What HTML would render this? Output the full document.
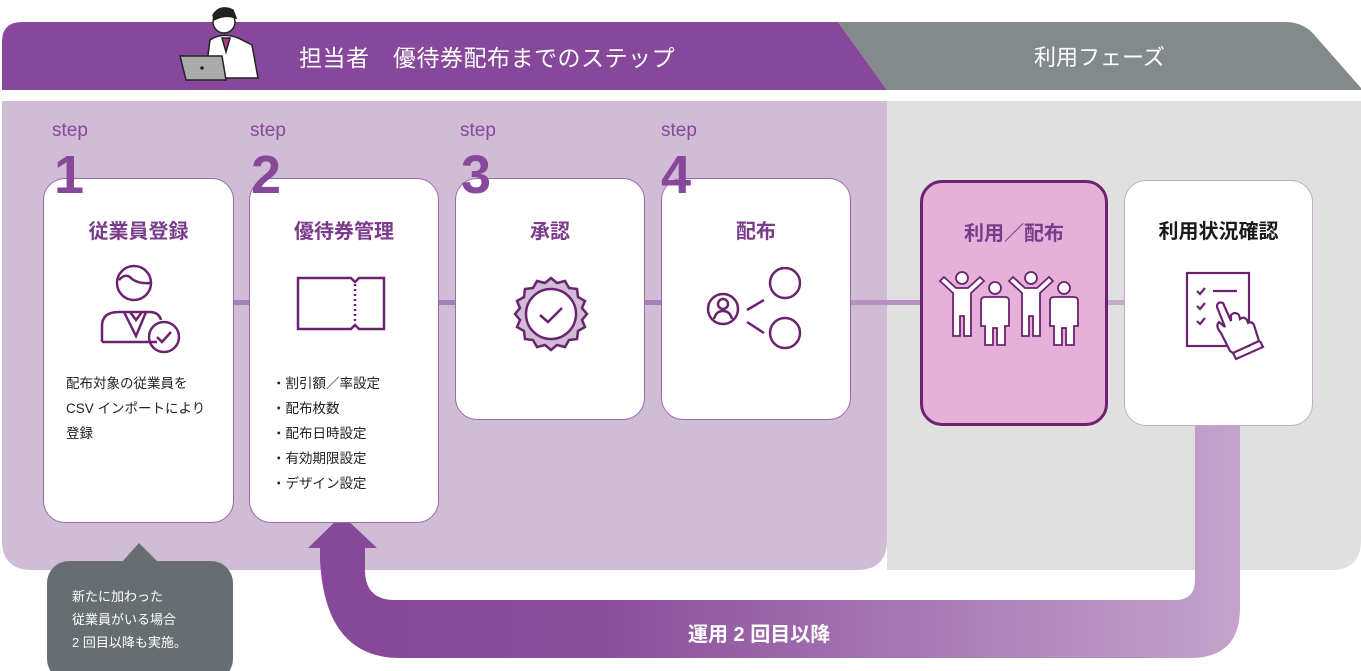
<!DOCTYPE html>
<html><head><meta charset="utf-8"><style>
body{margin:0;width:1361px;height:671px;overflow:hidden;background:#fff;font-family:"Liberation Sans","Noto Sans CJK JP",sans-serif;position:relative}
.a{position:absolute}
.card{position:absolute;background:#fff;border:1.5px solid #9a6aac;border-radius:22px;box-sizing:border-box}
.ttl{position:absolute;left:0;right:0;top:36px;text-align:center;font-weight:bold;font-size:20px;color:#7b3b8c}
.step{position:absolute;font-size:19px;color:#87479a}
.num{position:absolute;font-size:54px;font-weight:bold;color:#87479a;font-family:"Liberation Sans",sans-serif;line-height:1}
.txt{position:absolute;font-size:13.5px;color:#222;line-height:25px}
</style></head><body>
<svg class="a" style="left:0;top:0" width="1361" height="671">
<defs><linearGradient id="g" x1="0" x2="1"><stop offset="0" stop-color="#87479a"/><stop offset="0.3" stop-color="#8a4c9b"/><stop offset="1" stop-color="#c4a3cc"/></linearGradient></defs>
<path d="M2 42 Q2 22 22 22 L838 22 L887 90 L2 90Z" fill="#87479a"/>
<path d="M838 22 L1285 22 Q1305 22 1317 38 L1361 88 L1361 90 L887 90Z" fill="#838a8c"/>
<path d="M2 101 L887 101 L887 540 Q887 570 857 570 L32 570 Q2 570 2 540Z" fill="#d1bcd5"/>
<path d="M887 101 L1361 101 L1361 540 Q1361 570 1331 570 L887 570Z" fill="#e0e0e0"/>
<rect x="230" y="300" width="700" height="5" fill="#a57fb8"/>
<rect x="850" y="300" width="80" height="5" fill="#b592c0"/>
<rect x="1105" y="300" width="30" height="5" fill="#c5a8cc"/>
<path d="M1195 425 L1240 425 L1240 608 Q1240 658 1190 658 L400 658 Q325 658 320 560 L320 548 L308 548 L342 515 L377 548 L365 548 L365 570 Q365 600 395 600 L1175 600 Q1195 600 1195 580Z" fill="url(#g)"/>
<path d="M122 562 L139 543 L158 562Z" fill="#676e72"/>
<rect x="47" y="561" width="186" height="120" rx="22" fill="#676e72"/>
<g stroke="#222" stroke-width="1.5" fill="#fff">
<path d="M205 78 L210 40 Q222 32 238 38 L252 45 L258 78Z"/>
<circle cx="224" cy="22" r="11"/>
<path d="M213 15 Q220 4 233 10 L236 18 Q225 14 214 20Z" fill="#222"/>
<path d="M222 38 L226 52 L230 38Z" fill="#b03a86"/>
<path d="M180 56 L222 56 L226 80 L186 80Z" fill="#aaa"/>
</g>
<circle cx="202" cy="68" r="1.8" fill="#222"/>
</svg>
<div class="a" style="left:299px;top:39px;font-size:23px;color:#fff;letter-spacing:0.5px">担当者　優待券配布までのステップ</div>
<div class="a" style="left:1034px;top:40px;font-size:22px;color:#fff">利用フェーズ</div>

<div class="step" style="left:52px;top:120px">step</div>
<div class="step" style="left:250px;top:120px">step</div>
<div class="step" style="left:460px;top:120px">step</div>
<div class="step" style="left:661px;top:120px">step</div>

<div class="card" style="left:43px;top:178px;width:191px;height:345px">
<div class="ttl">従業員登録</div>
<svg class="a" style="left:55px;top:85px" width="90" height="90" fill="none" stroke="#6b2370" stroke-width="2.5"><circle cx="35" cy="19" r="17"/><path d="M20 16 Q27 8 33 15 Q40 20 51 19"/><path d="M3 78 L3 62 Q3 48 20 48 L50 48 Q60 48 62 56"/><path d="M25 48 L37 72 L47 48 M31 48 L37 56 L43 48"/><path d="M3 78 L58 78"/><circle cx="65" cy="73" r="15"/><path d="M58 73 L63 78 L72 68"/></svg>
<div class="txt" style="left:22px;top:192px">配布対象の従業員を<br>CSV インポートにより<br>登録</div>
</div>
<div class="card" style="left:249px;top:178px;width:190px;height:345px">
<div class="ttl">優待券管理</div>
<svg class="a" style="left:46px;top:97px" width="90" height="56" fill="none" stroke="#6b2370" stroke-width="2.5"><path d="M2 2 L55 2 L59 6 L63 2 L88 2 L88 53 L63 53 L59 49 L55 53 L2 53Z"/><path d="M59 8 L59 47" stroke-dasharray="2 3"/></svg>
<div class="txt" style="left:22px;top:192px">・割引額／率設定<br>・配布枚数<br>・配布日時設定<br>・有効期限設定<br>・デザイン設定</div>
</div>
<div class="card" style="left:455px;top:178px;width:190px;height:242px">
<div class="ttl">承認</div>
<svg class="a" style="left:56px;top:96px" width="78" height="78"><path d="M39 3 L45 8 L53 6 L57 13 L65 14 L66 22 L73 26 L70 33 L75 39 L70 45 L73 52 L66 56 L65 64 L57 65 L53 72 L45 70 L39 75 L33 70 L25 72 L21 65 L13 64 L12 56 L5 52 L8 45 L3 39 L8 33 L5 26 L12 22 L13 14 L21 13 L25 6 L33 8Z" fill="#d1bcd5" stroke="#6b2370" stroke-width="2.5"/><circle cx="39" cy="39" r="25" fill="#fff" stroke="#6b2370" stroke-width="2.5"/><path d="M28 40 L36 47 L50 33" fill="none" stroke="#6b2370" stroke-width="2.5"/></svg>
</div>
<div class="card" style="left:661px;top:178px;width:190px;height:242px">
<div class="ttl">配布</div>
<svg class="a" style="left:44px;top:88px" width="100" height="84" fill="none" stroke="#6b2370" stroke-width="2.5"><circle cx="17" cy="42" r="15"/><circle cx="17" cy="37" r="5"/><path d="M8 52 Q10 44 17 44 Q24 44 26 52"/><circle cx="79" cy="16" r="15"/><circle cx="79" cy="66" r="15"/><path d="M41 43 L58 33 M41 55 L58 66"/></svg>
</div>
<div class="card" style="left:920px;top:180px;width:188px;height:246px;background:#e6b0d8;border:3px solid #6b2370">
<div class="ttl" style="top:34px">利用／配布</div>
<svg class="a" style="left:14px;top:88px" width="160" height="84" fill="#fff" stroke="#6b2370" stroke-width="1.8"><g id="p1"><circle cx="25" cy="7" r="6"/><path d="M3 10 L7 6 L19 17 L31 17 L43 6 L47 10 L34 22 L34 65 L27 65 L27 45 L23 45 L23 65 L16 65 L16 22Z"/></g><g id="p2"><circle cx="58" cy="17" r="6"/><path d="M48 26 L68 26 Q72 26 72 30 L72 55 L68 55 L68 74 L60 74 L60 57 L56 57 L56 74 L48 74 L48 55 L44 55 L44 30 Q44 26 48 26Z"/></g><use href="#p1" x="69"/><use href="#p2" x="69"/></svg>
</div>
<div class="card" style="left:1124px;top:180px;width:189px;height:246px;border-color:#c5a8cc">
<div class="ttl" style="top:34px;color:#1a1a1a">利用状況確認</div>
<svg class="a" style="left:60px;top:90px" width="80" height="90" fill="none" stroke="#6b2370" stroke-width="2.2"><rect x="2" y="2" width="62" height="73"/><path d="M12 20 L15 23 L20 17 M28 20 L52 20 M12 35 L15 38 L20 32 M12 50 L15 53 L20 47"/><path d="M45 80 L36 62 Q30 55 34 51 L40 56 L32 36 Q32 30 38 32 L46 50 L46 44 Q50 40 54 44 L55 48 Q59 45 62 49 L63 52 Q67 50 69 54 L74 70 L48 82Z" fill="#fff"/><path d="M48 82 L51 88 L78 76 L75 70"/></svg>
</div>

<div class="a" style="left:72px;top:585px;font-size:13px;color:#fff;line-height:23px">新たに加わった<br>従業員がいる場合<br>2 回目以降も実施。</div>
<div class="a" style="left:688px;top:618px;font-size:20px;font-weight:bold;color:#fff">運用 2 回目以降</div>

<div class="num" style="left:54px;top:148px">1</div>
<div class="num" style="left:251px;top:148px">2</div>
<div class="num" style="left:461px;top:148px">3</div>
<div class="num" style="left:661px;top:148px">4</div>
</body></html>
